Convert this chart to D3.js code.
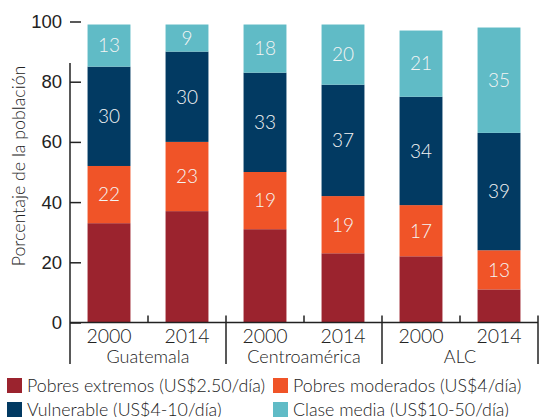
<!DOCTYPE html>
<html>
<head>
<meta charset="utf-8">
<script src="https://cdn.jsdelivr.net/npm/d3@7"></script>
<style>
  body { margin: 0; background: #fff; }
  svg { display: block; font-family: "Lato", "Noto Sans", sans-serif; font-weight: 300; }
</style>
</head>
<body>
<svg id="chart" width="545" height="417"></svg>
<script>
// data
var years = ["2000", "2014", "2000", "2014", "2000", "2014"];
var groups = ["Guatemala", "Centroamérica", "ALC"];
var extremos   = [33, 37, 31, 23, 22, 11];
var moderados  = [19, 23, 19, 19, 17, 13];
var vulnerable = [33, 30, 33, 37, 36, 39];
var media      = [14, 9, 16, 20, 22, 35];
// printed labels (the original prints these, not always the drawn height)
var lblModerados  = ["22", "23", "19", "19", "17", "13"];
var lblVulnerable = ["30", "30", "33", "37", "34", "39"];
var lblMedia      = ["13", "9", "18", "20", "21", "35"];
var yTicks = [0, 20, 40, 60, 80, 100];

var seriesNames = ["Pobres extremos (US$2.50/día)", "Pobres moderados (US$4/día)",
                   "Vulnerable (US$4-10/día)", "Clase media (US$10-50/día)"];
var colors = ["#9b232e", "#f05428", "#023a62", "#60bbc6"];

var keys = years.map(function (y, i) { return i; });
var rows = keys.map(function (i) {
  return { i: i, s0: extremos[i], s1: moderados[i], s2: vulnerable[i], s3: media[i] };
});
var labels = [null, lblModerados, lblVulnerable, lblMedia];

var svg = d3.select("#chart");
var left = 70;
var ink = "#222";

var x = d3.scaleBand()
  .domain(keys)
  .range([left, left + 468])
  .paddingInner(0.45)
  .paddingOuter(0.225);

var y = d3.scaleLinear()
  .domain([0, 100])
  .range([322.5, 21.5]);

var layers = d3.stack().keys(["s0", "s1", "s2", "s3"])(rows);

var layer = svg.selectAll("g.layer")
  .data(layers)
  .enter().append("g")
  .attr("class", "layer")
  .attr("fill", function (d, i) { return colors[i]; });

layer.selectAll("rect")
  .data(function (d) { return d; })
  .enter().append("rect")
  .attr("x", function (d) { return x(d.data.i); })
  .attr("width", x.bandwidth())
  .attr("y", function (d) { return y(d[1]); })
  .attr("height", function (d) { return y(d[0]) - y(d[1]); });

layer.each(function (L, li) {
  if (!labels[li]) return;
  d3.select(this).selectAll("text")
    .data(L)
    .enter().append("text")
    .attr("x", function (d) { return x(d.data.i) + x.bandwidth() / 2; })
    .attr("y", function (d) { return (y(d[0]) + y(d[1])) / 2; })
    .attr("dy", "0.36em")
    .attr("text-anchor", "middle")
    .attr("fill", "#f4f4f4")
    .style("font-size", "19px")
    .text(function (d) { return labels[li][d.data.i]; });
});

// y axis
var yAxis = d3.axisLeft(y)
  .tickValues(yTicks)
  .tickSizeInner(-11)
  .tickSizeOuter(0)
  .tickPadding(8);

var gy = svg.append("g")
  .attr("transform", "translate(" + left + ",0)")
  .call(yAxis);
gy.select(".domain").remove();
gy.selectAll(".tick line").attr("stroke", ink).attr("stroke-width", 1.5);
gy.selectAll(".tick text").attr("fill", ink).style("font-size", "18.5px")
  .style("font-family", null);

// vertical axis line
svg.append("line")
  .attr("x1", left).attr("x2", left)
  .attr("y1", 63).attr("y2", 364)
  .attr("stroke", ink).attr("stroke-width", 1.5);

// baseline
svg.append("line")
  .attr("x1", left).attr("x2", x.range()[1])
  .attr("y1", y(0)).attr("y2", y(0))
  .attr("stroke", ink).attr("stroke-width", 1.5);

// separators between bars / groups
var step = x.step();
d3.range(1, 7).forEach(function (k) {
  var sx = left + k * step;
  var long = k % 2 === 0;
  svg.append("line")
    .attr("x1", sx).attr("x2", sx)
    .attr("y1", y(0) - 7).attr("y2", long ? 364 : y(0))
    .attr("stroke", ink).attr("stroke-width", 1.5);
});

// year labels
svg.selectAll("text.year")
  .data(keys)
  .enter().append("text")
  .attr("class", "year")
  .attr("x", function (i) { return x(i) + x.bandwidth() / 2; })
  .attr("y", 343)
  .attr("text-anchor", "middle")
  .attr("fill", ink)
  .style("font-size", "19.5px")
  .text(function (i) { return years[i]; });

// group labels
svg.selectAll("text.group")
  .data(groups)
  .enter().append("text")
  .attr("class", "group")
  .attr("x", function (g, gi) { return left + (2 * gi + 1) * step; })
  .attr("y", 363)
  .attr("text-anchor", "middle")
  .attr("fill", ink)
  .style("font-size", "18px")
  .text(function (g) { return g; });

// y title
svg.append("text")
  .attr("transform", "translate(25,166) rotate(-90)")
  .attr("text-anchor", "middle")
  .attr("fill", ink)
  .style("font-size", "17.8px")
  .text("Porcentaje de la población");

// legend
var legendPos = [[7, 378], [273, 378], [7, 402], [273, 402]];
var leg = svg.selectAll("g.legend")
  .data(seriesNames)
  .enter().append("g")
  .attr("class", "legend")
  .attr("transform", function (d, i) { return "translate(" + legendPos[i][0] + "," + legendPos[i][1] + ")"; });

leg.append("rect")
  .attr("width", 15).attr("height", 15)
  .attr("fill", function (d, i) { return colors[i]; });

leg.append("text")
  .attr("x", 20)
  .attr("y", 7.5)
  .attr("dy", "0.36em")
  .attr("fill", ink)
  .style("font-size", "17.8px")
  .text(function (d) { return d; });
</script>
</body>
</html>
